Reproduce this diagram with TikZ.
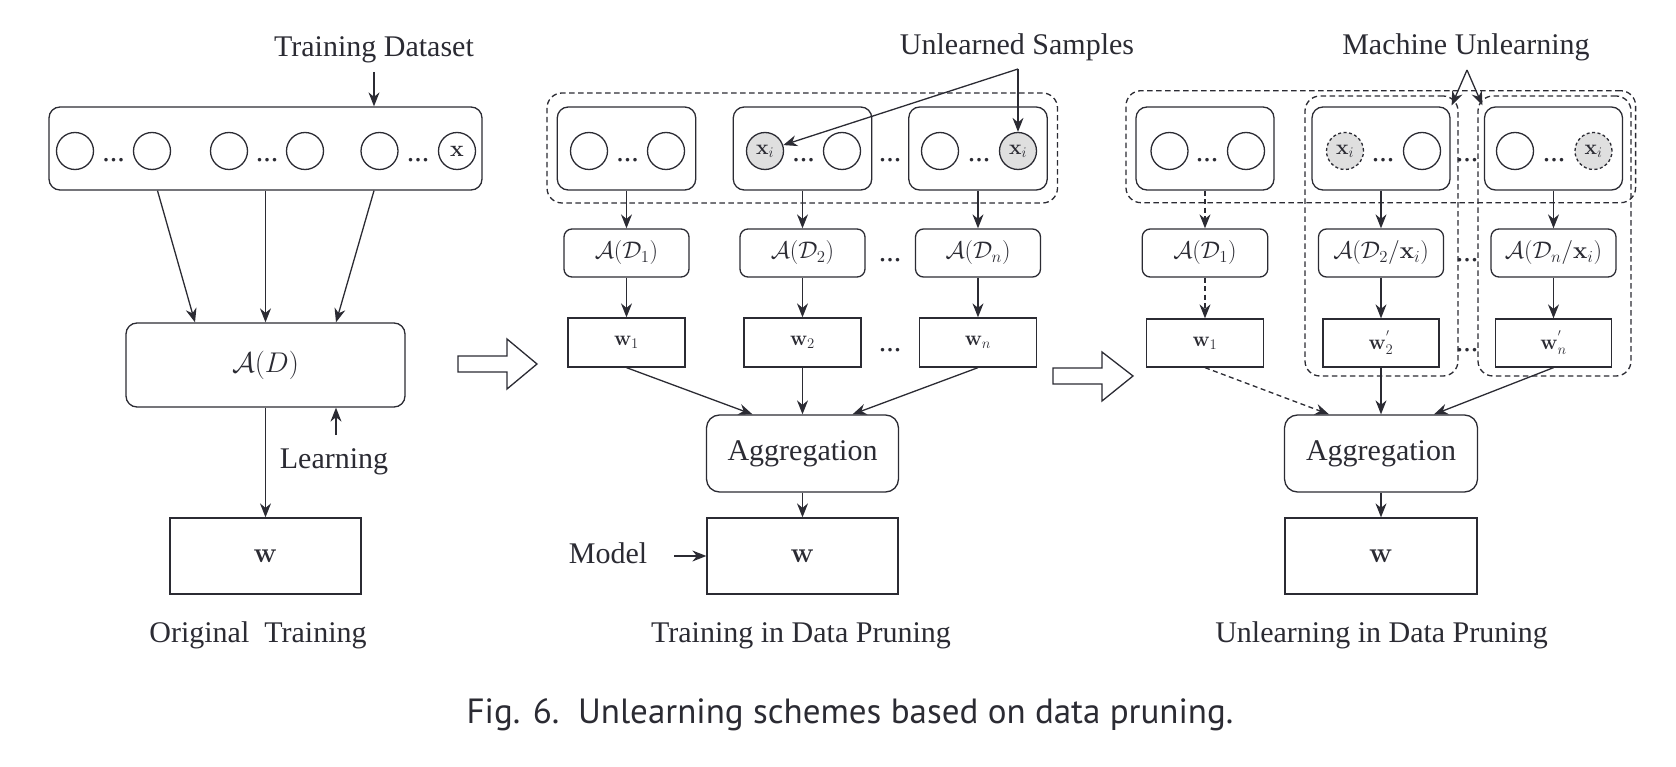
\RequirePackage{fix-cm}
\documentclass[tikz,border=0pt]{standalone}
\usepackage[no-math]{fontspec}
\setmainfont{Liberation Serif}
\newfontfamily\captionfont{PT Sans}
\usetikzlibrary{arrows.meta}
\definecolor{ink}{HTML}{2B2B33}
\tikzstyle{font_label} = [text=ink, font=\fontsize{30}{36}\selectfont]
\tikzstyle{label_text} = [font_label, anchor=base, inner sep=0pt]
\tikzstyle{dots} = [label_text, font=\fontsize{30}{36}\selectfont]
\tikzstyle{math_big} = [text=ink, font=\fontsize{28.5}{34}\selectfont]
\tikzstyle{math_small} = [text=ink, font=\fontsize{24}{28}\selectfont]
\tikzstyle{math_w} = [text=ink, font=\fontsize{21}{25}\selectfont]
\tikzstyle{box_round} = [draw=ink, line width=1.3pt, rounded corners=11pt, inner sep=0pt]
\tikzstyle{box_sharp} = [draw=ink, line width=1.3pt, inner sep=0pt]
\tikzstyle{group_dashed} = [draw=ink, line width=1.3pt, rounded corners=15pt, dash pattern=on 5.5pt off 3.5pt]
\tikzstyle{node_sample} = [circle, draw=ink, line width=1.3pt, inner sep=0pt, minimum size=37pt, math_w]
\tikzstyle{node_unlearned} = [node_sample, fill=gray!25]
\tikzstyle{node_removed} = [node_unlearned, dash pattern=on 3pt off 2.5pt]
\tikzstyle{edge_normal} = [draw=ink, line width=1.3pt, -{Stealth[length=14pt,width=11pt]}]
\tikzstyle{edge_dashed} = [edge_normal, dash pattern=on 5pt off 3.5pt]
\tikzstyle{arrow_hollow} = [draw=ink, line width=1.3pt, fill=white]

\begin{document}
\begin{tikzpicture}[x=1pt,y=-1pt]
		\useasboundingbox (0,0) rectangle (1676,767);

		\node (ds_label) at (374,57) [label_text] {Training Dataset};
		\node (ds_box) at (265.5,148.5) [box_round, minimum width=433pt, minimum height=83pt] {};
		\node (ds_s1) at (75,151) [node_sample] {};
		\node (ds_s2) at (152,151) [node_sample] {};
		\node (ds_s3) at (229,151) [node_sample] {};
		\node (ds_s4) at (305,151) [node_sample] {};
		\node (ds_s5) at (379.5,151) [node_sample] {};
		\node (ds_x) at (457,151) [node_sample, font=\fontsize{23}{27}\selectfont] {$\mathbf{x}$};
		\node (ds_d1) at (113.5,162) [dots] {...};
		\node (ds_d2) at (267,162) [dots] {...};
		\node (ds_d3) at (418,162) [dots] {...};
		\node (ad_box) at (265.5,365) [box_round, minimum width=279pt, minimum height=84pt, math_big] {$\mathcal{A}(D)$};
		\node (w_box) at (265.5,556) [box_sharp, minimum width=191pt, minimum height=76pt, math_big] {$\mathbf{w}$};
		\node (learn_label) at (334,468) [label_text] {Learning};
		\coordinate (learn_tail) at (336,435);
		\node (orig_caption) at (258,642) [label_text] {Original\ \ Training};

		\draw[edge_normal] ([yshift=-15pt]ds_label.base) -- (ds_label.base |- ds_box.north);
		\draw[edge_normal] ([xshift=-108pt]ds_box.south) -- ([xshift=-70.5pt]ad_box.north);
		\draw[edge_normal] (ds_box.south) -- (ad_box.north);
		\draw[edge_normal] ([xshift=108.5pt]ds_box.south) -- ([xshift=70.5pt]ad_box.north);
		\draw[edge_normal] (ad_box) -- (w_box);
		\draw[edge_normal] (learn_tail) -- (learn_tail |- ad_box.south);

		\draw[arrow_hollow] (458,356) -- (507,356) -- (507,339) -- (537,364) -- (507,389) -- (507,372) -- (458,372) -- cycle;

		\node (us_label) at (1017,55) [label_text] {Unlearned Samples};
		\coordinate (us_apex) at (1018,69);
		\node (m_group) at (802.25,148) [group_dashed, minimum width=510.5pt, minimum height=110pt] {};
		\node (m_set1) at (626.5,148.5) [box_round, minimum width=138.5pt, minimum height=83pt] {};
		\node (m_set2) at (802.5,148.5) [box_round, minimum width=138.5pt, minimum height=83pt] {};
		\node (m_set3) at (978,148.5) [box_round, minimum width=138.5pt, minimum height=83pt] {};
		\node (m_s1a) at (589,151) [node_sample] {};
		\node (m_s1b) at (666,151) [node_sample] {};
		\node (m_x2) at (765,151) [node_unlearned] {$\mathbf{x}_i$};
		\node (m_s2b) at (842,151) [node_sample] {};
		\node (m_s3a) at (940,151) [node_sample] {};
		\node (m_x3) at (1018,151) [node_unlearned] {$\mathbf{x}_i$};
		\node (m_d1) at (627.5,162) [dots] {...};
		\node (m_d2) at (803.5,162) [dots] {...};
		\node (m_d3) at (979,162) [dots] {...};
		\node (m_d4) at (890,162) [dots] {...};
		\node (m_alg1) at (626.5,253) [box_round, rounded corners=8pt, minimum width=125pt, minimum height=48pt, math_small] {$\mathcal{A}(\mathcal{D}_1)$};
		\node (m_alg2) at (802.5,253) [box_round, rounded corners=8pt, minimum width=125pt, minimum height=48pt, math_small] {$\mathcal{A}(\mathcal{D}_2)$};
		\node (m_alg3) at (978,253) [box_round, rounded corners=8pt, minimum width=125pt, minimum height=48pt, math_small] {$\mathcal{A}(\mathcal{D}_n)$};
		\node (m_d5) at (890,262) [dots] {...};
		\node (m_w1) at (626.5,342.5) [box_sharp, minimum width=117pt, minimum height=49pt, math_w] {$\mathbf{w}_1$};
		\node (m_w2) at (802.5,342.5) [box_sharp, minimum width=117pt, minimum height=49pt, math_w] {$\mathbf{w}_2$};
		\node (m_w3) at (978,342.5) [box_sharp, minimum width=117pt, minimum height=49pt, math_w] {$\mathbf{w}_n$};
		\node (m_d6) at (890,352) [dots] {...};
		\node (m_agg) at (802.5,453.5) [box_round, rounded corners=13pt, minimum width=192pt, minimum height=77pt, font_label] {Aggregation};
		\node (m_model) at (802.5,556) [box_sharp, minimum width=191pt, minimum height=76pt, math_big] {$\mathbf{w}$};
		\node (model_label) at (608,563) [label_text] {Model};
		\coordinate (model_tail) at (674,556);
		\node (mid_caption) at (801,642) [label_text] {Training in Data Pruning};

		\draw[edge_normal] (us_apex) -- (m_x2);
		\draw[edge_normal] (us_apex) -- (m_x3);
		\draw[edge_normal] (m_set1) -- (m_alg1);
		\draw[edge_normal] (m_set2) -- (m_alg2);
		\draw[edge_normal] (m_set3) -- (m_alg3);
		\draw[edge_normal] (m_alg1) -- (m_w1);
		\draw[edge_normal] (m_alg2) -- (m_w2);
		\draw[edge_normal] (m_alg3) -- (m_w3);
		\draw[edge_normal] (m_w1.south) -- ([xshift=-50pt]m_agg.north);
		\draw[edge_normal] (m_w2) -- (m_agg);
		\draw[edge_normal] (m_w3.south) -- ([xshift=50pt]m_agg.north);
		\draw[edge_normal] (m_agg) -- (m_model);
		\draw[edge_normal] (model_tail) -- (m_model.west);

		\draw[arrow_hollow] (1053,368) -- (1102,368) -- (1102,352) -- (1133,376) -- (1102,401) -- (1102,384) -- (1053,384) -- cycle;

		\node (ml_label) at (1466,55) [label_text] {Machine Unlearning};
		\coordinate (ml_apex) at (1467,70);
		\node (r_group) at (1380.8,146.7) [group_dashed, minimum width=509.6pt, minimum height=112pt] {};
		\node (r_grp2) at (1381.5,236) [group_dashed, minimum width=153pt, minimum height=280pt] {};
		\node (r_grp3) at (1554.5,236) [group_dashed, minimum width=153pt, minimum height=280pt] {};
		\node (r_set1) at (1205,148.5) [box_round, minimum width=138pt, minimum height=83pt] {};
		\node (r_set2) at (1381,148.5) [box_round, minimum width=138pt, minimum height=83pt] {};
		\node (r_set3) at (1553.5,148.5) [box_round, minimum width=138pt, minimum height=83pt] {};
		\node (r_s1a) at (1169.5,151) [node_sample] {};
		\node (r_s1b) at (1246,151) [node_sample] {};
		\node (r_x2) at (1345,151) [node_removed] {$\mathbf{x}_i$};
		\node (r_s2b) at (1422,151) [node_sample] {};
		\node (r_s3a) at (1515,151) [node_sample] {};
		\node (r_x3) at (1593.5,151) [node_removed] {$\mathbf{x}_i$};
		\node (r_d1) at (1207,162) [dots] {...};
		\node (r_d2) at (1383,162) [dots] {...};
		\node (r_d3) at (1554,162) [dots] {...};
		\node (r_d4) at (1467,162) [dots] {...};
		\node (r_alg1) at (1205,253) [box_round, rounded corners=8pt, minimum width=125.5pt, minimum height=48pt, math_small] {$\mathcal{A}(\mathcal{D}_1)$};
		\node (r_alg2) at (1381,253) [box_round, rounded corners=8pt, minimum width=125pt, minimum height=48pt, math_small] {$\mathcal{A}(\mathcal{D}_2/\mathbf{x}_i)$};
		\node (r_alg3) at (1553.5,253) [box_round, rounded corners=8pt, minimum width=125pt, minimum height=48pt, math_small] {$\mathcal{A}(\mathcal{D}_n/\mathbf{x}_i)$};
		\node (r_d5) at (1467,262) [dots] {...};
		\node (r_w1) at (1205,343) [box_sharp, minimum width=117pt, minimum height=48pt, math_w] {$\mathbf{w}_1$};
		\node (r_w2) at (1381,343) [box_sharp, minimum width=116pt, minimum height=48pt, math_w] {$\mathbf{w}_2^{'}$};
		\node (r_w3) at (1553.5,343) [box_sharp, minimum width=116pt, minimum height=48pt, math_w] {$\mathbf{w}_n^{'}$};
		\node (r_d6) at (1467,352) [dots] {...};
		\node (r_agg) at (1381,453.5) [box_round, rounded corners=13pt, minimum width=193pt, minimum height=77pt, font_label] {Aggregation};
		\node (r_model) at (1381,556) [box_sharp, minimum width=192pt, minimum height=76pt, math_big] {$\mathbf{w}$};
		\node (right_caption) at (1381.5,642) [label_text] {Unlearning in Data Pruning};

		\draw[edge_normal] (ml_apex) -- ([xshift=-7pt,yshift=-10pt]r_grp2.north east);
		\draw[edge_normal] (ml_apex) -- ([xshift=5pt,yshift=-10pt]r_grp3.north west);
		\draw[edge_dashed] (r_set1) -- (r_alg1);
		\draw[edge_normal] (r_set2) -- (r_alg2);
		\draw[edge_normal] (r_set3) -- (r_alg3);
		\draw[edge_dashed] (r_alg1) -- (r_w1);
		\draw[edge_normal] (r_alg2) -- (r_w2);
		\draw[edge_normal] (r_alg3) -- (r_w3);
		\draw[edge_dashed] (r_w1.south) -- ([xshift=-52pt]r_agg.north);
		\draw[edge_normal] (r_w2) -- (r_agg);
		\draw[edge_normal] (r_w3.south) -- ([xshift=53pt]r_agg.north);
		\draw[edge_normal] (r_agg) -- (r_model);

		\node (fig_caption) at (850,723) [anchor=base, inner sep=0pt, text=ink, font=\captionfont\fontsize{35}{42}\selectfont] {Fig. 6.\ \ Unlearning schemes based on data pruning.};
		\end{tikzpicture}
\end{document}
